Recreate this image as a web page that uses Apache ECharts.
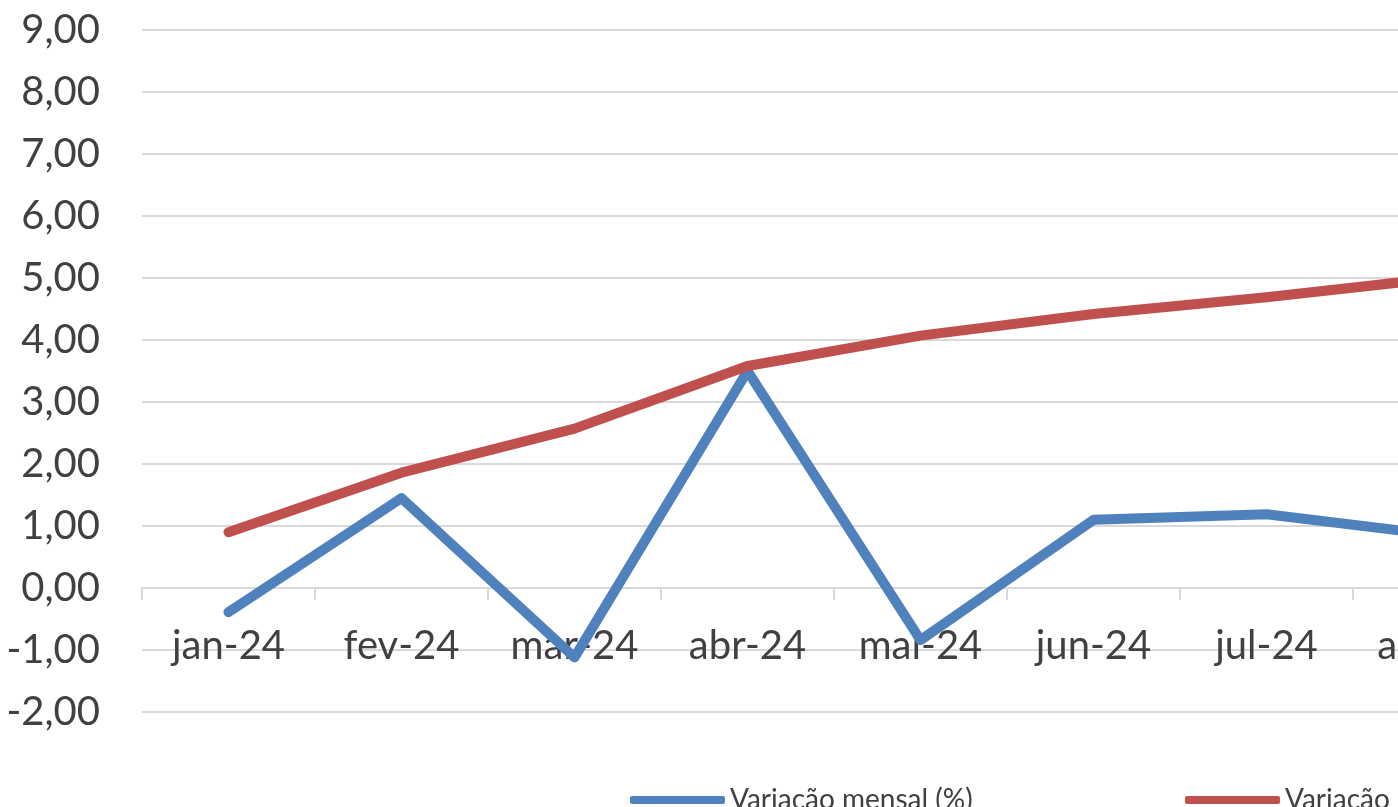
<!DOCTYPE html>
<html>
<head>
<meta charset="utf-8">
<script src="https://cdn.jsdelivr.net/npm/echarts@6/dist/echarts.min.js"></script>
<style>
  html, body { margin: 0; padding: 0; background: #fff; }
  #chart { width: 1398px; height: 807px; }
</style>
</head>
<body>
<div id="chart"></div>
<script>
// meses (o gráfico original continua à direita, cortado)
const meses = ['jan-24', 'fev-24', 'mar-24', 'abr-24', 'mai-24', 'jun-24', 'jul-24', 'ago-24'];
const variacaoMensal = [-0.39, 1.45, -1.12, 3.50, -0.84, 1.10, 1.19, 0.85];
const variacaoAno = [0.90, 1.86, 2.57, 3.58, 4.07, 4.42, 4.69, 5.00];
const nomesSeries = ['Variação mensal (%)', 'Variação no ano (%)'];

const chart = echarts.init(document.getElementById('chart'));

const fmt = function (v) {
    return v.toFixed(2).replace('.', ',');
};

// uma legenda por série, para não quebrar linha fora da tela
const legenda = function (nome, esquerda) {
    return {
        left: esquerda,
        top: 781,
        itemWidth: 95,
        itemHeight: 8,
        icon: 'roundRect',
        textStyle: { fontSize: 28, color: '#404040' },
        data: [nome]
    };
};

chart.setOption({
    animation: false,
    textStyle: { fontFamily: 'Lato' },
    grid: {
        left: 142,
        top: 30,
        bottom: 95,
        right: 1398 - 142 - 173 * meses.length,
        outerBoundsMode: 'none',
        containLabel: false
    },
    legend: [legenda(nomesSeries[0], 625), legenda(nomesSeries[1], 1180)],
    xAxis: {
        type: 'category',
        data: meses,
        boundaryGap: true,
        position: 'bottom',
        // eixo desenhado na linha do zero: -2 a 0 = 2 intervalos de 62px
        offset: -124,
        axisLine: { onZero: false, lineStyle: { color: '#d9d9d9', width: 2 } },
        axisTick: { show: true, length: 12, lineStyle: { color: '#d9d9d9', width: 2 } },
        axisLabel: { fontSize: 40, color: '#404040', margin: 38, interval: 0 }
    },
    yAxis: {
        type: 'value',
        min: -2,
        max: 9,
        interval: 1,
        axisLine: { show: false },
        axisTick: { show: false },
        splitLine: { lineStyle: { color: '#d9d9d9', width: 2 } },
        axisLabel: { fontSize: 40, color: '#404040', margin: 42, formatter: fmt }
    },
    series: [
        {
            name: nomesSeries[0],
            type: 'line',
            data: variacaoMensal,
            showSymbol: false,
            lineStyle: { color: '#4f81bd', width: 10, cap: 'round', join: 'round' },
            itemStyle: { color: '#4f81bd' }
        },
        {
            name: nomesSeries[1],
            type: 'line',
            data: variacaoAno,
            showSymbol: false,
            lineStyle: { color: '#c0504d', width: 10, cap: 'round', join: 'round' },
            itemStyle: { color: '#c0504d' }
        }
    ]
});
</script>
</body>
</html>
